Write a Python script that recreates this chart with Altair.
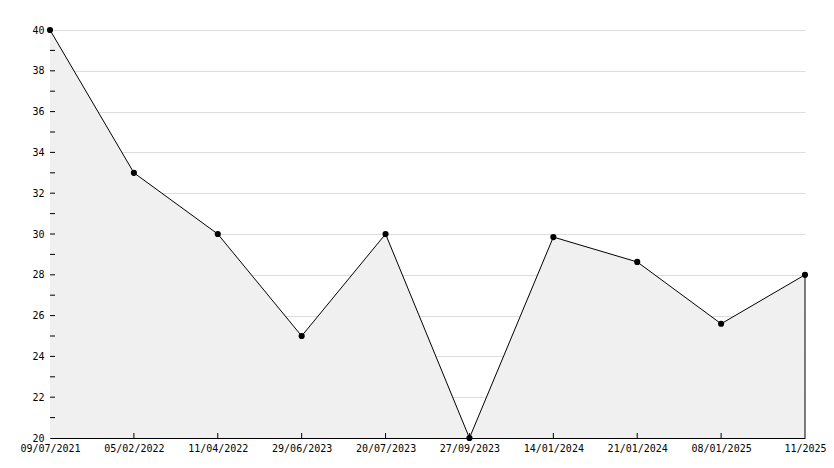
import altair as alt
import pandas as pd

dates = ["09/07/2021", "05/02/2022", "11/04/2022", "29/06/2023", "20/07/2023",
         "27/09/2023", "14/01/2024", "21/01/2024", "08/01/2025", "11/2025"]
values = [40, 33, 30, 25, 30, 20, 29.85, 28.63, 25.6, 28]
label_values = [20, 22, 24, 26, 28, 30, 32, 34, 36, 38, 40]
tick_values = list(range(21, 40))

df = pd.DataFrame({"date": dates, "value": values})
ticks_df = pd.DataFrame({"v": tick_values})
xticks_df = pd.DataFrame({"date": dates[1:-1]})
last_df = pd.DataFrame({"date": [dates[-1]], "value": [values[-1]]})

FONT = "DejaVu Sans Mono"
W, H = 755, 408

xscale = alt.Scale(type="point", padding=0, domain=dates)
yscale = alt.Scale(domain=[20, 40], nice=False, zero=False)

x = alt.X("date:N", sort=None, scale=xscale,
          axis=alt.Axis(labelAngle=0, ticks=False, grid=False, title=None,
                        domainColor="black", labelFont=FONT, labelFontSize=10,
                        labelColor="black", labelPadding=5, labelOverlap=False,
                        labelFlush=False))
y = alt.Y("value:Q", scale=yscale,
          axis=alt.Axis(values=label_values, ticks=False, grid=True,
                        gridColor="#dddddd", title=None, domainColor="black",
                        labelFont=FONT, labelFontSize=10, labelColor="black",
                        labelPadding=6, labelFlush=False))

area = alt.Chart(df).mark_area(color="#f0f0f0", opacity=1).encode(
    x=x, y=y, y2=alt.Y2(datum=20))
line = alt.Chart(df).mark_line(color="black", strokeWidth=1).encode(x=x, y=y)
pts = alt.Chart(df).mark_point(shape="circle", filled=True, color="black",
                               size=38, opacity=1).encode(x=x, y=y)
edge = alt.Chart(last_df).mark_rule(color="black", strokeWidth=1).encode(
    x=alt.X("date:N", scale=xscale), y=alt.Y("value:Q", scale=yscale),
    y2=alt.Y2(datum=20))
yticks = alt.Chart(ticks_df).mark_rule(color="black", strokeWidth=1).encode(
    y=alt.Y("v:Q", scale=yscale), x=alt.value(0), x2=alt.value(5))
xticks = alt.Chart(xticks_df).mark_rule(color="black", strokeWidth=1).encode(
    x=alt.X("date:N", scale=xscale), y=alt.value(H), y2=alt.value(H - 5))

chart = alt.layer(area, line, edge, yticks, xticks, pts).properties(
    width=W, height=H,
    autosize=alt.AutoSizeParams(type="none"),
    padding={"left": 42, "top": 22, "right": 21, "bottom": 22},
    background="white",
).configure_view(stroke=None)

chart.save("out.html", embed_options={"renderer": "svg", "actions": False})
